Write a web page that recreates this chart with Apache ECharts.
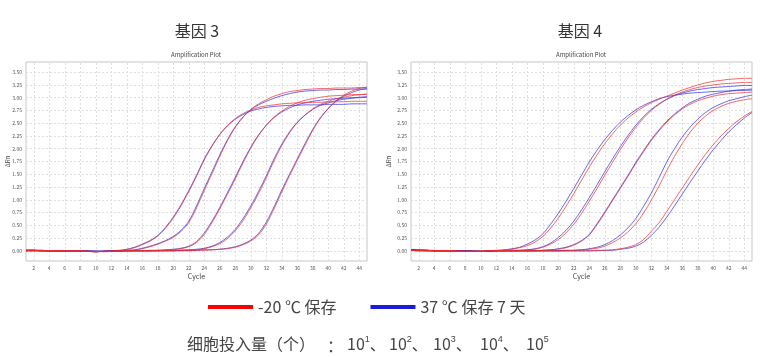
<!DOCTYPE html>
<html>
<head>
<meta charset="utf-8">
<script src="https://cdn.jsdelivr.net/npm/echarts@6/dist/echarts.min.js"></script>
<style>
html,body{margin:0;padding:0;background:#fff;}
#chart{width:779px;height:357px;}
</style>
</head>
<body>
<div id="chart"></div>
<script>
// ---- data ----
const cycles = [1,2,3,4,5,6,7,8,9,10,11,12,13,14,15,16,17,18,19,20,21,22,23,24,25,26,27,28,29,30,31,32,33,34,35,36,37,38,39,40,41,42,43,44,45];
const xTickLabels = [2,4,6,8,10,12,14,16,18,20,22,24,26,28,30,32,34,36,38,40,42,44];
const yTickLabels = [0,0.25,0.5,0.75,1,1.25,1.5,1.75,2,2.25,2.5,2.75,3,3.25,3.5];
const panelTitles = ['基因 3', '基因 4'];
const seriesNames = ['-20 ℃ 保存', '37 ℃ 保存 7 天'];
const inputLabel = '细胞投入量（个）';
const inputExponents = [1, 2, 3, 4, 5];

// Gene 3, -20 °C (red) and 37 °C 7 d (blue); dilutions 10^5 .. 10^1
const g3A_red = [0.00,0.01,0.00,0.00,0.00,-0.01,0.00,0.00,-0.01,-0.02,-0.01,-0.01,0.00,0.02,0.06,0.12,0.19,0.29,0.44,0.64,0.88,1.16,1.46,1.78,2.05,2.28,2.46,2.59,2.69,2.76,2.81,2.84,2.86,2.88,2.89,2.90,2.90,2.91,2.91,2.92,2.92,2.92,2.93,2.93,2.93];
const g3A_blue = [0.01,0.01,0.01,0.00,0.00,0.00,0.00,0.00,-0.01,-0.01,-0.01,0.00,0.01,0.03,0.07,0.13,0.20,0.30,0.46,0.66,0.90,1.18,1.48,1.80,2.06,2.28,2.45,2.58,2.67,2.74,2.78,2.81,2.83,2.84,2.85,2.85,2.86,2.86,2.86,2.87,2.87,2.87,2.88,2.88,2.88];
const g3B_red = [0.00,0.00,0.00,0.00,0.00,-0.01,0.00,0.00,-0.01,-0.01,-0.02,-0.01,0.00,0.00,0.01,0.04,0.08,0.13,0.19,0.26,0.38,0.55,0.84,1.18,1.51,1.85,2.16,2.42,2.62,2.77,2.88,2.96,3.03,3.08,3.12,3.14,3.16,3.17,3.18,3.18,3.19,3.19,3.19,3.20,3.20];
const g3B_blue = [0.01,0.01,0.00,0.00,0.00,0.00,0.00,0.00,0.00,-0.01,-0.01,0.00,0.00,0.01,0.02,0.05,0.09,0.14,0.20,0.28,0.40,0.58,0.88,1.22,1.55,1.88,2.18,2.43,2.62,2.76,2.86,2.93,2.99,3.04,3.08,3.11,3.13,3.14,3.15,3.15,3.16,3.16,3.17,3.17,3.17];
const g3C_red = [0.00,0.00,0.00,0.00,0.00,0.00,-0.01,-0.01,-0.01,-0.02,-0.01,-0.01,0.00,0.00,0.00,0.00,0.00,0.01,0.01,0.02,0.04,0.08,0.16,0.32,0.55,0.82,1.11,1.41,1.72,2.01,2.26,2.46,2.62,2.74,2.83,2.90,2.95,2.98,3.01,3.03,3.04,3.05,3.06,3.06,3.07];
const g3C_blue = [0.01,0.01,0.00,0.00,0.00,0.00,0.00,-0.01,-0.01,-0.01,-0.01,0.00,0.00,0.00,0.00,0.00,0.01,0.01,0.02,0.03,0.05,0.09,0.18,0.35,0.58,0.85,1.14,1.44,1.75,2.03,2.27,2.46,2.61,2.72,2.80,2.86,2.90,2.93,2.95,2.97,2.98,2.99,3.00,3.00,3.01];
const g3D_red = [0.00,0.00,0.00,0.00,0.00,-0.01,0.00,-0.01,-0.01,-0.02,-0.01,-0.01,-0.01,0.00,0.00,0.00,0.00,0.00,0.00,0.00,0.01,0.01,0.02,0.04,0.08,0.14,0.24,0.39,0.59,0.84,1.12,1.43,1.76,2.06,2.31,2.51,2.66,2.78,2.87,2.93,2.98,3.01,3.04,3.06,3.07];
const g3D_blue = [0.01,0.01,0.00,0.00,0.00,0.00,0.00,0.00,-0.01,-0.01,-0.01,-0.01,0.00,0.00,0.00,0.00,0.00,0.00,0.01,0.01,0.01,0.02,0.03,0.05,0.09,0.16,0.27,0.42,0.63,0.88,1.16,1.47,1.80,2.09,2.33,2.52,2.66,2.77,2.85,2.90,2.94,2.97,2.99,3.01,3.02];
const g3E_red = [0.00,0.00,0.00,0.00,-0.01,0.00,0.00,-0.01,-0.01,-0.02,-0.01,-0.01,-0.01,0.00,0.00,0.00,0.00,0.00,0.00,0.00,0.00,0.00,0.01,0.01,0.02,0.03,0.04,0.07,0.12,0.19,0.31,0.52,0.82,1.15,1.47,1.77,2.07,2.36,2.60,2.79,2.94,3.05,3.13,3.18,3.21];
const g3E_blue = [0.01,0.01,0.01,0.00,0.00,0.00,0.00,0.00,0.00,-0.01,-0.01,-0.01,0.00,0.00,0.00,0.00,0.00,0.00,0.00,0.00,0.01,0.01,0.01,0.02,0.02,0.03,0.05,0.08,0.13,0.21,0.34,0.56,0.86,1.19,1.50,1.80,2.10,2.38,2.61,2.79,2.93,3.03,3.10,3.15,3.18];

// Gene 4
const g4A_red = [0.01,0.01,0.00,0.00,0.00,0.00,0.00,-0.01,-0.01,-0.01,0.00,0.00,0.01,0.03,0.06,0.10,0.17,0.28,0.44,0.64,0.87,1.12,1.38,1.64,1.88,2.10,2.29,2.46,2.60,2.72,2.82,2.90,2.97,3.03,3.09,3.15,3.20,3.25,3.29,3.32,3.34,3.36,3.37,3.38,3.38];
const g4A_blue = [0.02,0.02,0.01,0.01,0.00,0.00,0.00,0.00,0.00,-0.01,0.00,0.01,0.02,0.04,0.07,0.13,0.21,0.33,0.52,0.73,0.97,1.22,1.48,1.74,1.97,2.18,2.36,2.52,2.65,2.76,2.85,2.92,2.98,3.02,3.05,3.07,3.09,3.10,3.11,3.12,3.13,3.13,3.14,3.14,3.15];
const g4B_red = [0.01,0.01,0.00,0.00,0.00,0.00,-0.01,-0.01,-0.01,-0.01,0.00,0.00,0.00,0.00,0.01,0.02,0.03,0.07,0.13,0.22,0.35,0.52,0.73,0.97,1.22,1.48,1.73,1.98,2.21,2.42,2.60,2.75,2.87,2.97,3.05,3.11,3.16,3.20,3.23,3.25,3.27,3.28,3.29,3.30,3.30];
const g4B_blue = [0.02,0.01,0.01,0.00,0.00,0.00,0.00,0.00,-0.01,-0.01,0.00,0.00,0.00,0.01,0.01,0.02,0.04,0.08,0.15,0.26,0.40,0.58,0.80,1.04,1.29,1.55,1.80,2.04,2.26,2.46,2.63,2.77,2.88,2.97,3.04,3.09,3.13,3.16,3.18,3.20,3.21,3.22,3.23,3.24,3.24];
const g4C_red = [0.01,0.00,0.00,0.00,0.00,0.00,-0.01,-0.01,-0.01,-0.01,0.00,0.00,0.00,0.00,0.00,0.00,0.00,0.01,0.02,0.03,0.06,0.11,0.19,0.31,0.51,0.74,0.98,1.22,1.46,1.71,1.94,2.16,2.35,2.52,2.66,2.78,2.87,2.94,2.99,3.03,3.06,3.08,3.09,3.10,3.11];
const g4C_blue = [0.02,0.01,0.01,0.00,0.00,0.00,0.00,0.00,-0.01,-0.01,-0.01,0.00,0.00,0.00,0.00,0.00,0.00,0.01,0.02,0.04,0.07,0.12,0.20,0.32,0.53,0.76,1.00,1.24,1.48,1.73,1.96,2.18,2.37,2.54,2.68,2.80,2.90,2.97,3.03,3.07,3.10,3.13,3.15,3.16,3.17];
const g4D_red = [0.01,0.00,0.00,0.00,0.00,0.00,-0.01,-0.01,-0.01,-0.01,0.00,0.00,0.00,0.00,0.00,0.00,0.00,0.00,0.00,0.00,0.00,0.01,0.02,0.03,0.05,0.09,0.16,0.25,0.37,0.53,0.74,0.99,1.27,1.57,1.85,2.10,2.32,2.50,2.64,2.75,2.83,2.89,2.93,2.96,2.98];
const g4D_blue = [0.02,0.01,0.01,0.00,0.00,0.00,0.00,0.00,-0.01,-0.01,-0.01,0.00,0.00,0.00,0.00,0.00,0.00,0.00,0.00,0.00,0.01,0.01,0.02,0.04,0.07,0.12,0.20,0.31,0.45,0.63,0.87,1.13,1.43,1.74,2.00,2.23,2.42,2.58,2.71,2.81,2.88,2.94,2.98,3.02,3.05];
const g4E_red = [0.01,0.00,0.00,0.00,0.00,0.00,-0.01,-0.01,-0.01,-0.01,0.00,0.00,0.00,0.00,0.00,0.00,0.00,0.00,0.00,0.00,0.00,0.00,0.00,0.00,0.01,0.01,0.02,0.04,0.07,0.12,0.22,0.38,0.55,0.77,1.00,1.23,1.46,1.68,1.89,2.08,2.25,2.40,2.53,2.64,2.73];
const g4E_blue = [0.02,0.01,0.01,0.00,0.00,0.00,0.00,0.00,-0.01,-0.01,-0.01,0.00,0.00,0.00,0.00,0.00,0.00,0.00,0.00,0.00,0.00,0.00,0.00,0.00,0.00,0.01,0.01,0.03,0.05,0.09,0.17,0.30,0.46,0.66,0.88,1.11,1.34,1.56,1.78,1.98,2.16,2.33,2.47,2.60,2.71];

// ---- chart ----
const RED = '#ec2a2a', BLUE = '#2a2ae6';
const FONT = '"Noto Sans CJK SC", "Noto Sans", sans-serif';
const chart = echarts.init(document.getElementById('chart'), null, {renderer: 'canvas'});

function pts(arr){ return cycles.map((c, i) => [c, arr[i]]); }
function mk(name, color, arr, idx){
  return {
    name: name, type: 'line', xAxisIndex: idx, yAxisIndex: idx, z: 3,
    data: pts(arr), smooth: 0.3, symbol: 'none', silent: true,
    lineStyle: {color: color, width: 1, opacity: 0.7},
    itemStyle: {color: color}
  };
}
function gridHost(idx){
  return {
    name: 'grid' + idx, type: 'line', xAxisIndex: idx, yAxisIndex: idx, z: 1,
    data: [], symbol: 'none', silent: true,
    markLine: {
      z: 1, silent: true, symbol: ['none', 'none'], animation: false,
      label: {show: false},
      lineStyle: {color: '#dedede', type: [2, 2], width: 1},
      emphasis: {disabled: true},
      data: xTickLabels.map(v => ({xAxis: v})).concat(yTickLabels.map(v => ({yAxis: v})))
    }
  };
}
const gene3 = [[g3A_red,g3A_blue],[g3B_red,g3B_blue],[g3C_red,g3C_blue],[g3D_red,g3D_blue],[g3E_red,g3E_blue]];
const gene4 = [[g4A_red,g4A_blue],[g4B_red,g4B_blue],[g4C_red,g4C_blue],[g4D_red,g4D_blue],[g4E_red,g4E_blue]];
const series = [gridHost(0), gridHost(1)];
[gene3, gene4].forEach((g, idx) => {
  g.forEach(p => { series.push(mk(seriesNames[1], BLUE, p[1], idx)); });
  g.forEach(p => { series.push(mk(seriesNames[0], RED, p[0], idx)); });
});

const grids = [
  {left: 26, top: 62, width: 341, height: 199},
  {left: 411, top: 62, width: 341, height: 199}
].map(g => Object.assign(g, {show: true, borderColor: '#c6c6c6', borderWidth: 1, backgroundColor: '#fff'}));

function xAx(i){
  return {
    type: 'value', gridIndex: i, min: 1, max: 45,
    name: 'Cycle', nameLocation: 'middle', nameGap: 12, nameMoveOverlap: false,
    nameTextStyle: {fontSize: 7, color: '#444', fontFamily: FONT},
    axisLine: {show: false},
    axisTick: {show: false, customValues: xTickLabels},
    axisLabel: {customValues: xTickLabels, fontSize: 5, color: '#555', margin: 5},
    splitLine: {show: false}
  };
}
function yAx(i){
  return {
    type: 'value', gridIndex: i, min: -0.2, max: 3.7,
    name: 'ΔRn', nameLocation: 'middle', nameGap: i === 0 ? 15 : 19, nameRotate: 90,
    nameMoveOverlap: false,
    nameTextStyle: {fontSize: 6, color: '#444', fontFamily: FONT},
    axisLine: {show: false},
    axisTick: {show: false, customValues: yTickLabels},
    axisLabel: {customValues: yTickLabels, fontSize: 5, color: '#555', margin: 4,
      formatter: v => Number(v).toFixed(2)},
    splitLine: {show: false}
  };
}

const sup = {fontSize: 9, padding: [0, 0, 9, 0], fill: '#444'};
const bottomFont = '16px ' + FONT;
const expX = [347, 389, 433, 480, 526];
const graphic = [
  {type: 'text', x: 197, y: 31, style: {text: panelTitles[0], textAlign: 'center', textVerticalAlign: 'middle', font: '16px ' + FONT, fill: '#333'}},
  {type: 'text', x: 580, y: 31, style: {text: panelTitles[1], textAlign: 'center', textVerticalAlign: 'middle', font: '16px ' + FONT, fill: '#333'}},
  {type: 'text', x: 196, y: 55, style: {text: 'Amplification Plot', textAlign: 'center', textVerticalAlign: 'middle', font: '6px ' + FONT, fill: '#444'}},
  {type: 'text', x: 581, y: 55, style: {text: 'Amplification Plot', textAlign: 'center', textVerticalAlign: 'middle', font: '6px ' + FONT, fill: '#444'}},
  {type: 'text', x: 187, y: 344, style: {text: inputLabel, textVerticalAlign: 'middle', font: bottomFont, fill: '#444'}},
  {type: 'text', x: 327, y: 346, style: {text: '：', textVerticalAlign: 'middle', font: bottomFont, fill: '#444'}}
].concat(inputExponents.map((e, i) => ({
  type: 'text', x: expX[i], y: 344,
  style: {text: '10{s|' + e + '}' + (i < inputExponents.length - 1 ? '、' : ''),
    textVerticalAlign: 'middle', font: bottomFont, fill: '#444', rich: {s: sup}}
})));

chart.setOption({
  animation: false,
  backgroundColor: '#fff',
  textStyle: {fontFamily: FONT},
  grid: grids,
  xAxis: [xAx(0), xAx(1)],
  yAxis: [yAx(0), yAx(1)],
  legend: {
    left: 203, top: 294, icon: 'rect', itemWidth: 45, itemHeight: 4, itemGap: 34,
    textStyle: {fontSize: 16, color: '#444', fontFamily: FONT},
    data: [
      {name: seriesNames[0], itemStyle: {color: '#ff0000', opacity: 1}},
      {name: seriesNames[1], itemStyle: {color: '#1c1cdc', opacity: 1}}
    ],
    selectedMode: false
  },
  graphic: graphic,
  series: series
});
</script>
</body>
</html>
